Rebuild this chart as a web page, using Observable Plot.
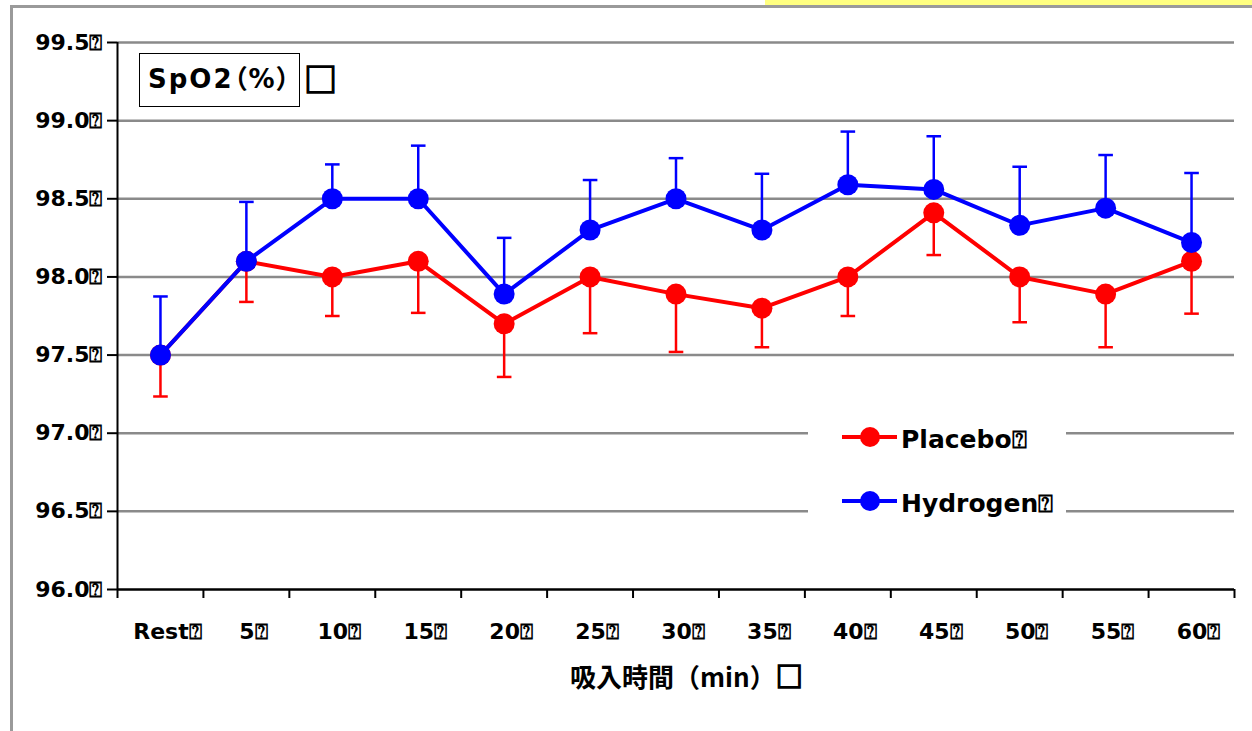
<!DOCTYPE html>
<html>
<head>
<meta charset="utf-8">
<script src="https://cdn.jsdelivr.net/npm/d3@7"></script>
<script src="https://cdn.jsdelivr.net/npm/@observablehq/plot@0.6"></script>
<style>
  body { margin: 0; background: white; }
  #wrap { position: relative; width: 1252px; height: 731px; overflow: hidden; background: white; }
  #wrap svg { position: absolute; left: 0; top: 0; }
  .ov { position: absolute; }
  .lat { font-family: "DejaVu Sans", "Noto Sans CJK JP", sans-serif; font-weight: bold; font-feature-settings: "palt"; }
  .cjk { font-family: "Noto Sans CJK JP", sans-serif; font-weight: bold; }
  .sq { font-family: "Noto Sans CJK JP", sans-serif; -webkit-text-stroke: 1.6px black; }
</style>
</head>
<body>
<div id="wrap"></div>
<script>
// ---- data ----
const categories = ["Rest", "5", "10", "15", "20", "25", "30", "35", "40", "45", "50", "55", "60"];
const placebo    = [97.5, 98.1, 98.0, 98.1, 97.7, 98.0, 97.89, 97.8, 98.0, 98.41, 98.0, 97.89, 98.1];
const placeboErr = [0.265, 0.26, 0.25, 0.33, 0.34, 0.36, 0.37, 0.25, 0.25, 0.27, 0.29, 0.34, 0.335];
const hydrogen    = [97.5, 98.1, 98.5, 98.5, 97.89, 98.3, 98.5, 98.3, 98.59, 98.56, 98.33, 98.44, 98.22];
const hydrogenErr = [0.375, 0.38, 0.22, 0.34, 0.36, 0.32, 0.26, 0.36, 0.34, 0.34, 0.375, 0.34, 0.445];
const yTicks = [96.0, 96.5, 97.0, 97.5, 98.0, 98.5, 99.0, 99.5];
const seriesNames = ["Placebo", "Hydrogen"];
const seriesColors = ["#ff0000", "#0000ff"];
const titleText = "SpO2（%）";
const xLabelText = "吸入時間（min）";
const missing = "\u2370";

const rows = categories.map((c, i) => ({
  i, cat: c,
  placebo: placebo[i], placeboLo: placebo[i] - placeboErr[i],
  hydrogen: hydrogen[i], hydrogenHi: hydrogen[i] + hydrogenErr[i]
}));

const cap = { draw(ctx, size) { const r = Math.sqrt(size / Math.PI); ctx.moveTo(-r, 0); ctx.lineTo(r, 0); } };

const chart = Plot.plot({
  width: 1252, height: 731,
  marginLeft: 117, marginRight: 18, marginTop: 42, marginBottom: 142,
  x: { type: "linear", domain: [-0.5, categories.length - 0.5], label: null },
  y: { domain: [yTicks[0], yTicks[yTicks.length - 1]], label: null },
  style: { fontFamily: "'DejaVu Sans', 'Noto Sans CJK JP', sans-serif", fontSize: "22px", fontWeight: "bold", color: "black", background: "transparent" },
  marks: [
    Plot.ruleY(yTicks.slice(1), { stroke: "#8a8a8a", strokeWidth: 2.5 }),
    Plot.ruleX([-0.5], { stroke: "black", strokeWidth: 2 }),
    Plot.ruleY([yTicks[0]], { stroke: "black", strokeWidth: 2.5 }),
    Plot.axisY({ ticks: yTicks, tickFormat: d => d.toFixed(1) + missing, tickSize: 10, tickPadding: 5, strokeWidth: 2, label: null }),
    Plot.axisX({ ticks: d3.range(-0.5, categories.length, 1), tickFormat: () => "", tickSize: 9, strokeWidth: 2, label: null }),
    Plot.axisX({ ticks: d3.range(categories.length), tickFormat: i => categories[i] + missing, tickSize: 0, tickPadding: 34, dx: 7, label: null }),
    // Placebo
    Plot.ruleX(rows, { x: "i", y1: "placebo", y2: "placeboLo", stroke: seriesColors[0], strokeWidth: 2.5 }),
    Plot.dot(rows, { x: "i", y: "placeboLo", symbol: cap, r: 7.3, stroke: seriesColors[0], strokeWidth: 2.5 }),
    Plot.line(rows, { x: "i", y: "placebo", stroke: seriesColors[0], strokeWidth: 4 }),
    Plot.dot(rows, { x: "i", y: "placebo", r: 10.5, fill: seriesColors[0], ariaLabel: "placebo marker" }),
    // Hydrogen
    Plot.ruleX(rows, { x: "i", y1: "hydrogen", y2: "hydrogenHi", stroke: seriesColors[1], strokeWidth: 2.5 }),
    Plot.dot(rows, { x: "i", y: "hydrogenHi", symbol: cap, r: 7.3, stroke: seriesColors[1], strokeWidth: 2.5 }),
    Plot.line(rows, { x: "i", y: "hydrogen", stroke: seriesColors[1], strokeWidth: 4 }),
    Plot.dot(rows, { x: "i", y: "hydrogen", r: 10.5, fill: seriesColors[1], ariaLabel: "hydrogen marker" })
  ]
});
chart.querySelectorAll('g[aria-label$="marker"]').forEach(g => g.style.filter = "drop-shadow(1px 3px 2px rgba(0,0,0,0.35))");

const wrap = document.getElementById("wrap");
wrap.appendChild(chart);

function add(html) { wrap.insertAdjacentHTML("beforeend", html); }

// page frame
add('<div class="ov" style="left:765px;top:0;width:487px;height:5px;background:#ffff80"></div>');
add('<div class="ov" style="left:10px;top:5px;width:1242px;height:3px;background:#9a9a9a"></div>');
add('<div class="ov" style="left:10px;top:5px;width:3px;height:726px;background:#9a9a9a"></div>');

// title box
add(`<div class="ov lat" style="left:139px;top:53px;width:161px;height:54px;box-sizing:border-box;border:1.5px solid black;background:white;font-size:26px;line-height:26px;padding:12px 0 0 8px;white-space:nowrap;letter-spacing:2px">${titleText}</div>`);
add('<div class="ov sq" style="left:304px;top:62px;font-size:33px;line-height:33px">□</div>');

// legend
add('<div class="ov" style="left:808px;top:405px;width:258px;height:130px;background:white"></div>');
const legendY = [437, 501];
seriesNames.forEach((name, k) => {
  add(`<svg class="ov" style="left:842px;top:${legendY[k] - 12}px" width="56" height="24"><line x1="0" y1="12" x2="55" y2="12" stroke="${seriesColors[k]}" stroke-width="4"/><circle cx="28" cy="12" r="10" fill="${seriesColors[k]}"/></svg>`);
  add(`<div class="ov lat" style="left:901px;top:${legendY[k] - 10}px;font-size:25px;line-height:25px;white-space:nowrap">${name}${missing}</div>`);
});

// x axis label
add(`<div class="ov cjk" style="left:570px;top:661px;font-size:26px;line-height:30px;white-space:nowrap">${xLabelText}<span class="sq" style="font-size:27px">□</span></div>`);
</script>
</body>
</html>
